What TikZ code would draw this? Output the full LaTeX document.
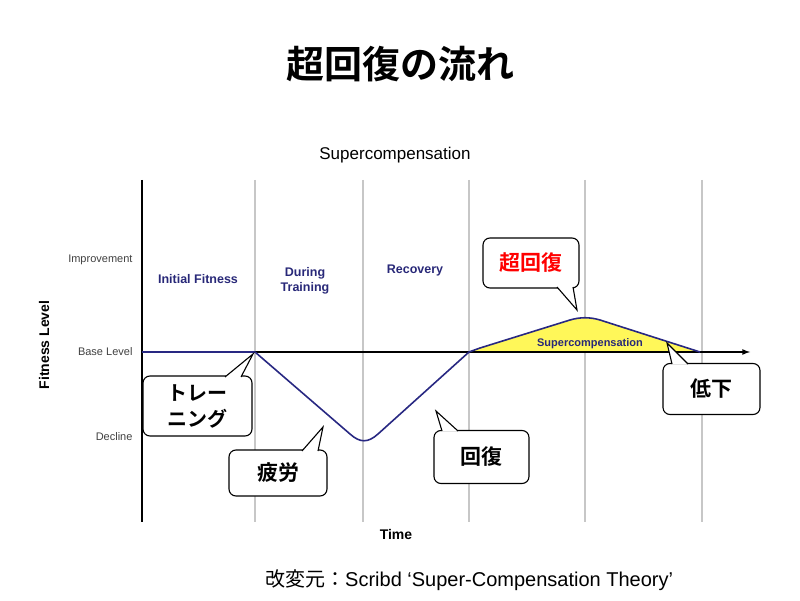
\documentclass[tikz,border=0pt]{standalone}
\usepackage{fontspec}
\setmainfont{Liberation Sans}
\newfontfamily\jp{Noto Sans CJK JP Bold}
\definecolor{navy}{RGB}{40,40,120}
\definecolor{curve}{RGB}{40,40,130}
\begin{document}
\begin{tikzpicture}[x=1pt,y=-1pt,
  grid/.style={draw=black!22,line width=1.6pt},
  lab/.style={font=\fontsize{11}{12}\selectfont,text=black!75},
  sec/.style={font=\bfseries\fontsize{12.5}{15}\selectfont,text=navy,align=center},
  box/.style={draw=black,line width=1.1pt,fill=white,rounded corners=7pt,font=\jp\fontsize{21}{25}\selectfont,align=center,inner sep=0pt},
  ptr/.style={draw=black,line width=1.1pt,fill=white,line join=miter}]
\useasboundingbox (0,0) rectangle (800,601);
\node[font=\jp\fontsize{38}{40}\selectfont] (title) at (400,64) {超回復の流れ};
\node[font=\fontsize{17}{20}\selectfont] (st) at (395,155) {Supercompensation};
\foreach \x in {255,363,469,585,702} \draw[grid] (\x,180) -- (\x,522);
\fill[yellow!65!white] (469,352) -- (480,348) -- (570,320) -- (585,318) -- (600,320) -- (700,352) -- cycle;
\node[font=\bfseries\fontsize{11}{12}\selectfont,text=navy] (sp) at (590,344) {Supercompensation};
\draw[line width=2pt] (142,180) -- (142,522);
\draw[line width=1.6pt,-latex] (142,352) -- (750,352);
\draw[line width=1.6pt,curve,line join=round]
 (142,352) -- (255,352) -- (350,434) .. controls (360,443) and (368,443) .. (378,434) -- (469,352) -- (480,348) -- (570,320) .. controls (580,317) and (590,317) .. (600,320) -- (700,352);
\node[lab,anchor=east] (imp) at (136,260) {Improvement};
\node[lab,anchor=east] (base) at (136,352) {Base Level};
\node[lab,anchor=east] (dec) at (136,437) {Decline};
\node[font=\bfseries\fontsize{14}{16}\selectfont,rotate=90] (fl) at (44,345) {Fitness Level};
\node[font=\bfseries\fontsize{14}{16}\selectfont] (time) at (396,534) {Time};
\node[sec] (s1) at (198,279) {Initial Fitness};
\node[sec] (s2) at (305,281) {During\\Training};
\node[sec] (s3) at (415,270) {Recovery};
% callouts
\node[box,minimum width=109pt,minimum height=60pt,font=\jp\fontsize{20}{26}\selectfont] (c1) at (197.5,406) {トレー\\ニング};
\coordinate (t1) at (253,354);
\filldraw[ptr] (225,377) -- (t1) -- (241,377);
\fill[white] (226,378) rectangle (240,380);
\node[box,minimum width=98pt,minimum height=46pt] (c2) at (278,473) {疲労};
\coordinate (t2) at (323,427);
\filldraw[ptr] (302,451) -- (t2) -- (318,451);
\fill[white] (303,452) rectangle (317,454);
\node[box,minimum width=95pt,minimum height=53pt] (c3) at (481.5,457) {回復};
\coordinate (t3) at (436,411);
\filldraw[ptr] (442,431) -- (t3) -- (458,431);
\fill[white] (443,432) rectangle (457,434);
\node[box,minimum width=96pt,minimum height=50pt,text=red] (c4) at (531,263) {超回復};
\coordinate (t4) at (577,310);
\filldraw[ptr] (557,287) -- (t4) -- (573,287);
\fill[white] (558,284) rectangle (572,286);
\node[box,minimum width=97pt,minimum height=51pt] (c5) at (711.5,389) {低下};
\coordinate (t5) at (667,343);
\filldraw[ptr] (672,364) -- (t5) -- (688,364);
\fill[white] (673,365) rectangle (687,367);
\node[font=\jp\fontsize{20}{22}\selectfont,anchor=west,inner sep=0pt] (src) at (265,580) {\fontspec{Noto Sans CJK JP}改変元：\fontspec{Liberation Sans}Scribd ‘Super-Compensation Theory’};
\end{tikzpicture}
\end{document}
